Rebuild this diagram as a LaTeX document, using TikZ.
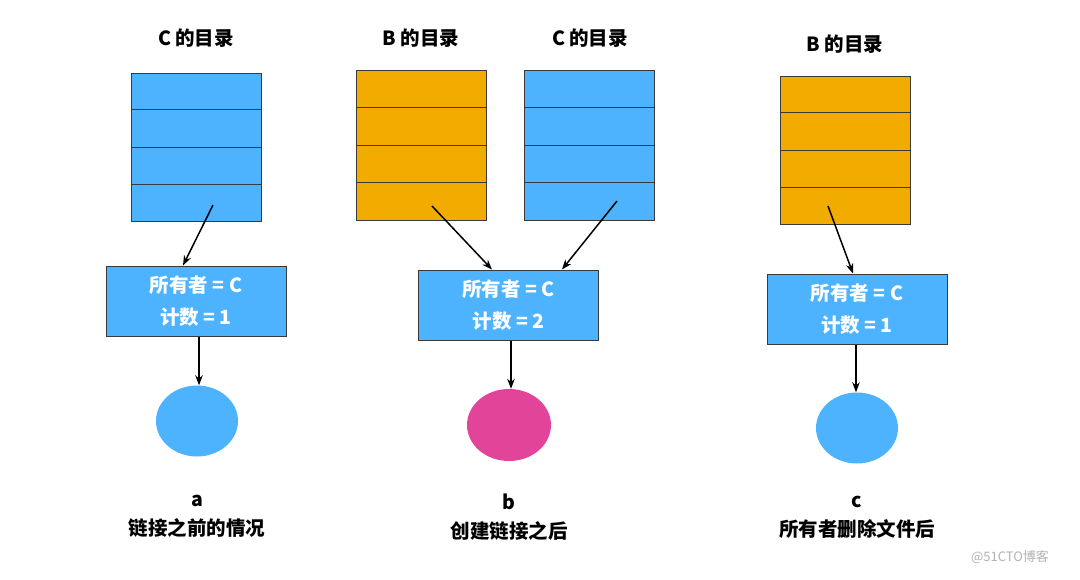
\documentclass[tikz,border=0pt]{standalone}
\usepackage{fontspec}
\setmainfont{Noto Sans CJK SC}
\usetikzlibrary{arrows.meta,calc,shapes.geometric}

\definecolor{dirblue}{HTML}{4DB3FF}
\definecolor{dirorange}{HTML}{F2AC00}
\definecolor{datapink}{HTML}{E2449A}
\definecolor{edgegray}{HTML}{3A3A3A}

\begin{document}
\begin{tikzpicture}[x=1pt,y=-1pt]
    \tikzstyle{every node}+=[inner sep=0pt]
    \tikzstyle{dirtab}=[draw=edgegray, line width=1pt, minimum width=130pt, minimum height=148pt]
    \tikzstyle{inode}=[draw=edgegray, line width=1pt, fill=dirblue, minimum width=180pt, minimum height=70pt,
        text=white, align=center, font=\fontsize{19.5}{32}\selectfont\bfseries]
    \tikzstyle{datablk}=[ellipse, minimum width=82pt, minimum height=71pt]
    \tikzstyle{title}=[font=\fontsize{19.5}{22}\selectfont\bfseries]
    \tikzstyle{caption}=[font=\fontsize{19.5}{22}\selectfont\bfseries, align=center]
    \tikzstyle{link}=[-{Stealth[length=10pt,width=7.5pt]}, line width=1.5pt, black]
    \useasboundingbox (0,0) rectangle (1080,579);

    % a
    \node [title] (titleA) at (196,38) {C 的目录};
    \node [dirtab, fill=dirblue] (dirA) at (196,147) {};
    \node [inode] (inodeA) at (196,301) {所有者 = C\\计数 = 1};
    \node [datablk, fill=dirblue] (dataA) at (197,421) {};
    \node [caption] (capA) at (197,516) {a\\[7pt]链接之前的情况};
    \coordinate (fromA) at (213,205);
    \draw [link] (fromA) -- (183,265.5);
    \draw [link] (inodeA.south -| 199,0) -- (dataA.north -| 199,0);

    % b
    \node [title] (titleB1) at (421,38) {B 的目录};
    \node [title] (titleB2) at (590,38) {C 的目录};
    \node [dirtab, fill=dirorange, minimum height=150pt] (dirB1) at (421,145) {};
    \node [dirtab, fill=dirblue, minimum height=150pt] (dirB2) at (589,145) {};
    \node [inode] (inodeB) at (508.5,305) {所有者 = C\\计数 = 2};
    \node [datablk, fill=datapink, minimum width=84pt, minimum height=72pt] (dataB) at (509,425) {};
    \node [caption] (capB) at (509,517) {b\\[7pt]创建链接之后};
    \coordinate (fromB1) at (432,206);
    \coordinate (fromB2) at (617,201);
    \draw [link] (fromB1) -- (492,269.5);
    \draw [link] (fromB2) -- (562,269.5);
    \draw [link] (inodeB.south -| 511,0) -- (dataB.north -| 511,0);

    % c
    \node [title] (titleC) at (845,44) {B 的目录};
    \node [dirtab, fill=dirorange] (dirC) at (845,150) {};
    \node [inode] (inodeC) at (857,309) {所有者 = C\\计数 = 1};
    \node [datablk, fill=dirblue] (dataC) at (857,428) {};
    \node [caption] (capC) at (857,517) {c\\[7pt]所有者删除文件后};
    \coordinate (fromC) at (828,206);
    \draw [link] (fromC) -- (853,273.5);
    \draw [link] (inodeC.south -| 856,0) -- (dataC.north -| 856,0);

    % rows of the directories
    \foreach \d in {dirA,dirB1,dirB2,dirC}
        \foreach \r in {1,2,3}
            \draw [edgegray, line width=1pt] ($(\d.north west)!\r/4!(\d.south west)$) -- ($(\d.north east)!\r/4!(\d.south east)$);

    \node [text=gray!60, font=\fontsize{13}{15}\selectfont] (mark) at (1010,557) {@51CTO博客};
\end{tikzpicture}
\end{document}
